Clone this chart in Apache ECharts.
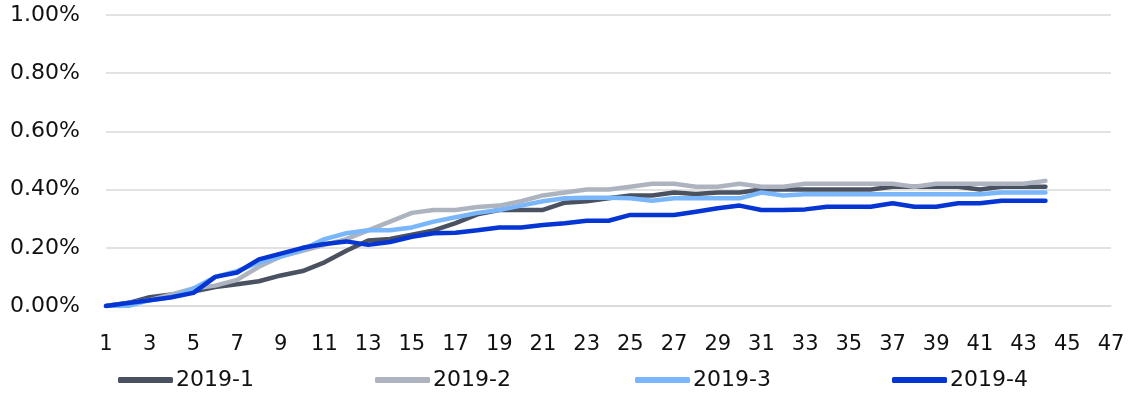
<!DOCTYPE html>
<html>
<head>
<meta charset="utf-8">
<script src="https://cdn.jsdelivr.net/npm/echarts@6/dist/echarts.min.js"></script>
<style>
  html, body { margin: 0; padding: 0; background: #fff; }
  #chart { width: 1132px; height: 406px; }
</style>
</head>
<body>
<div id="chart"></div>
<script>
// 数据 (单位: %)
var days = [];
for (var i = 1; i <= 47; i++) days.push(String(i));

var names = ['2019-1', '2019-2', '2019-3', '2019-4'];
var colors = ['#4a5262', '#adb3bf', '#7ab6fb', '#0535d2'];

var s2019_1 = [0, 0.01, 0.03, 0.04, 0.05, 0.065, 0.075, 0.085, 0.105, 0.12, 0.15, 0.19, 0.225, 0.23, 0.245, 0.26, 0.285, 0.315, 0.33, 0.33, 0.33, 0.355,
  0.36, 0.37, 0.38, 0.38, 0.39, 0.385, 0.39, 0.39, 0.40, 0.40, 0.40, 0.40, 0.40, 0.40, 0.41, 0.41, 0.41, 0.41, 0.40, 0.41, 0.41, 0.41];
var s2019_2 = [0, 0.01, 0.02, 0.04, 0.06, 0.07, 0.09, 0.135, 0.17, 0.19, 0.21, 0.23, 0.26, 0.29, 0.32, 0.33, 0.33, 0.34, 0.345, 0.36, 0.38, 0.39,
  0.40, 0.40, 0.41, 0.42, 0.42, 0.41, 0.41, 0.42, 0.41, 0.41, 0.42, 0.42, 0.42, 0.42, 0.42, 0.41, 0.42, 0.42, 0.42, 0.42, 0.42, 0.43];
var s2019_3 = [0, 0, 0.02, 0.03, 0.06, 0.10, 0.12, 0.15, 0.17, 0.195, 0.23, 0.25, 0.26, 0.26, 0.27, 0.29, 0.305, 0.32, 0.33, 0.345, 0.36, 0.37,
  0.372, 0.372, 0.37, 0.362, 0.37, 0.37, 0.37, 0.37, 0.39, 0.38, 0.384, 0.384, 0.384, 0.384, 0.384, 0.384, 0.384, 0.384, 0.384, 0.39, 0.39, 0.39];
var s2019_4 = [0, 0.01, 0.02, 0.03, 0.045, 0.10, 0.115, 0.16, 0.18, 0.20, 0.213, 0.222, 0.21, 0.22, 0.238, 0.25, 0.252, 0.26, 0.27, 0.27, 0.278, 0.284,
  0.293, 0.293, 0.313, 0.313, 0.313, 0.324, 0.336, 0.345, 0.33, 0.33, 0.332, 0.341, 0.341, 0.341, 0.353, 0.341, 0.341, 0.353, 0.353, 0.362, 0.362, 0.362];

var yTicks = [0, 0.2, 0.4, 0.6, 0.8, 1.0];

var seriesData = [s2019_1, s2019_2, s2019_3, s2019_4];

var myChart = echarts.init(document.getElementById('chart'), null, { renderer: 'canvas' });

var font = '"DejaVu Sans", "Noto Sans", sans-serif';
// 图例位置
var legendLeft = [113, 370, 630, 887];

option = {
    animation: false,
    backgroundColor: '#fff',
    color: colors,
    grid: {
        left: 106,
        right: 21,
        top: 15,
        bottom: 100,
        containLabel: false
    },
    legend: names.map(function (n, idx) {
        return {
            data: [n],
            bottom: 10,
            left: legendLeft[idx],
            itemWidth: 55,
            itemHeight: 6,
            itemGap: 0,
            icon: 'roundRect',
            textStyle: {
                fontFamily: font,
                fontSize: 22,
                color: '#111',
                padding: [0, 0, 0, -2]
            }
        };
    }),
    xAxis: {
        type: 'category',
        data: days,
        boundaryGap: false,
        axisLine: { show: true, lineStyle: { color: '#d9d9d9', width: 1.5 } },
        axisTick: { show: false },
        axisLabel: {
            interval: 1,
            margin: 28,
            fontFamily: font,
            fontSize: 21,
            color: '#111'
        },
        splitLine: { show: false }
    },
    yAxis: {
        type: 'value',
        min: yTicks[0],
        max: yTicks[yTicks.length - 1],
        interval: 0.2,
        axisLine: { show: false },
        axisTick: { show: false },
        axisLabel: {
            margin: 26,
            fontFamily: font,
            fontSize: 22,
            color: '#111',
            formatter: function (v) { return v.toFixed(2) + '%'; }
        },
        splitLine: { lineStyle: { color: '#d9d9d9', width: 1.5 } }
    },
    series: names.map(function (n, idx) {
        return {
            name: n,
            type: 'line',
            data: seriesData[idx],
            showSymbol: false,
            symbol: 'none',
            lineStyle: { width: 4.5, color: colors[idx], cap: 'round', join: 'round' },
            itemStyle: { color: colors[idx] }
        };
    })
};

myChart.setOption(option);
</script>
</body>
</html>
